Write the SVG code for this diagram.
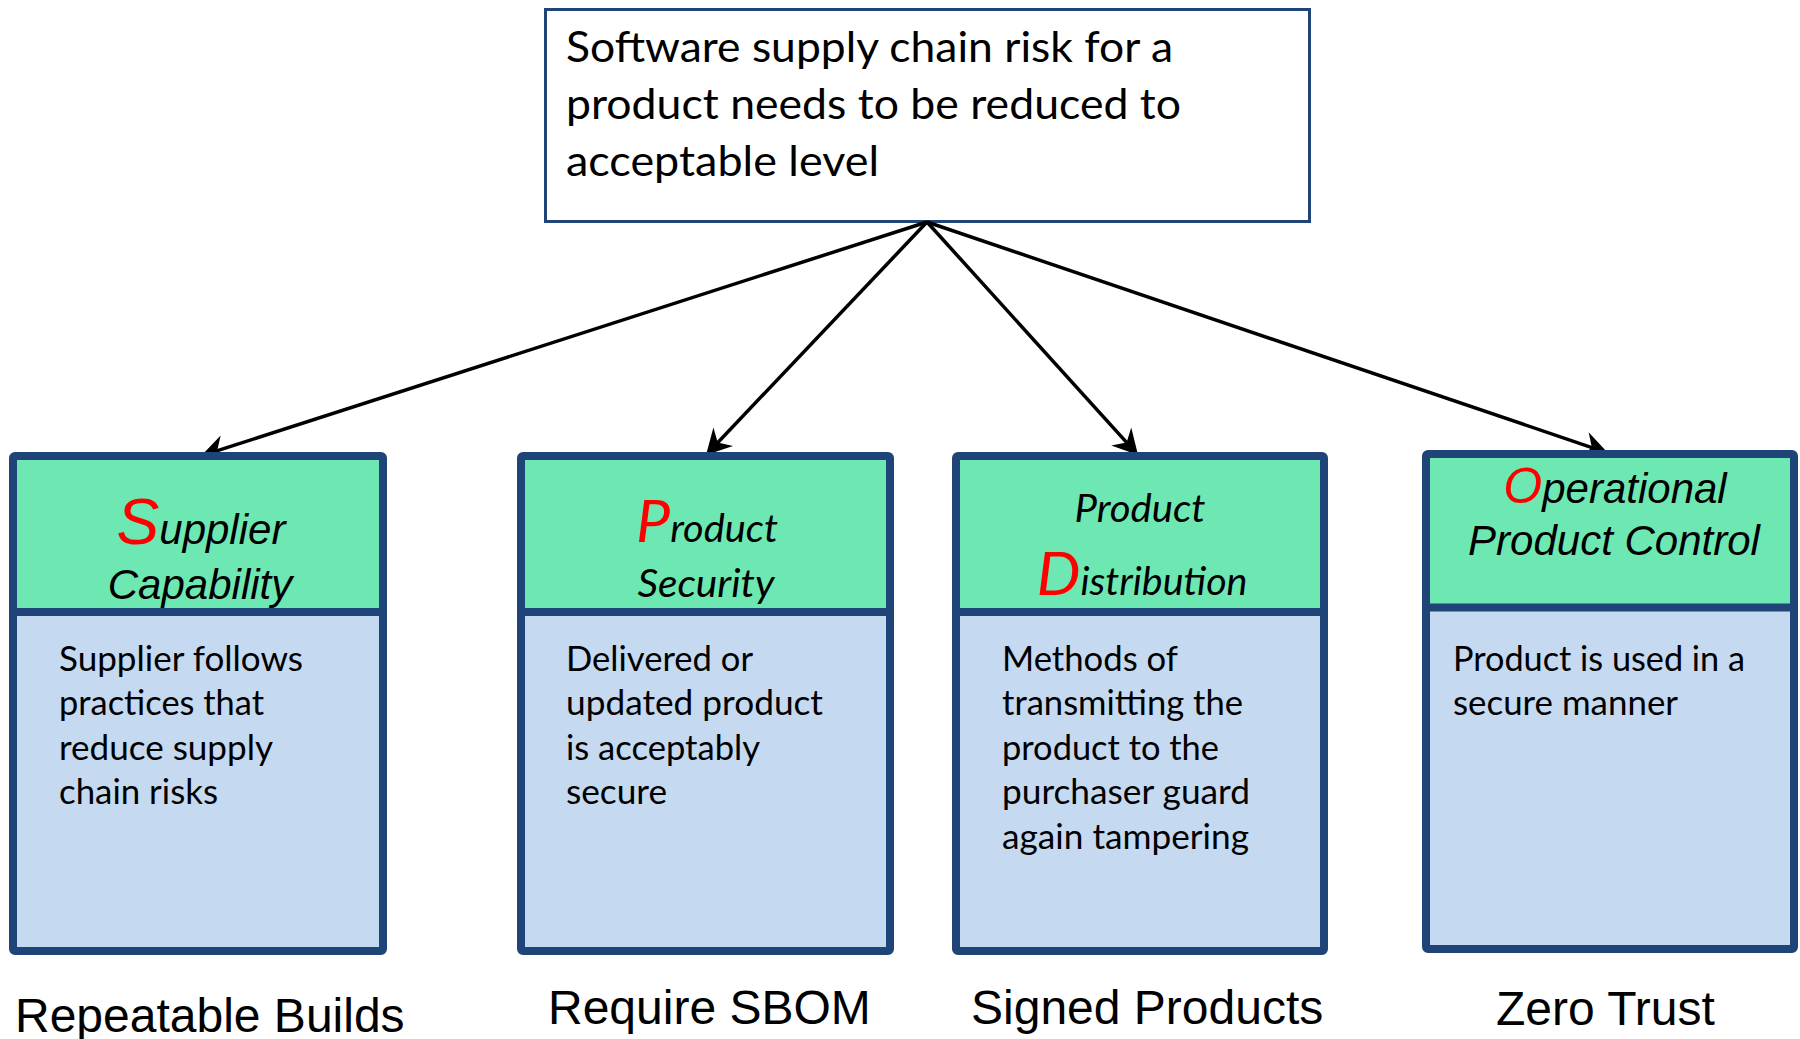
<svg xmlns="http://www.w3.org/2000/svg" width="1800" height="1039" viewBox="0 0 1800 1039">
<style>
.frame{fill:none;stroke:#1F4478;stroke-width:8;stroke-linejoin:round}
.sep{stroke:#1F4478;stroke-width:8}
.green{fill:#6EE8B2}
.blue{fill:#C5D9F1}
.top{fill:#FFFFFF;stroke:#1F4478;stroke-width:3}
.cal{font-family:Lato,"Open Sans","Liberation Sans",sans-serif;fill:#000}
.ari{font-family:"Liberation Sans",Arial,sans-serif;fill:#000}
.body{font-size:34px}
.hd{font-style:italic}
.red{fill:#FF0000}
.lbl{font-size:48px}
.conn{stroke:#000;stroke-width:3.5;fill:none;marker-end:url(#ah)}
</style>
<defs>
<marker id="ah" markerWidth="30" markerHeight="30" refX="0" refY="0" orient="auto" markerUnits="userSpaceOnUse" style="overflow:visible">
<path d="M10,0 L-15,-13.5 L-7,0 L-15,13.5 Z" fill="#000"/>
</marker>
</defs>
<rect width="1800" height="1039" fill="#FFFFFF"/>

<g id="root">
<rect class="top" x="545.5" y="9.5" width="764" height="212"/>
<text class="cal" font-size="43" x="566" y="62" textLength="607" lengthAdjust="spacingAndGlyphs">Software supply chain risk for a</text>
<text class="cal" font-size="43" x="566" y="119" textLength="615" lengthAdjust="spacingAndGlyphs">product needs to be reduced to</text>
<text class="cal" font-size="43" x="566" y="176" textLength="313" lengthAdjust="spacingAndGlyphs">acceptable level</text>
</g>

<g id="connectors">
<line class="conn" x1="927" y1="222" x2="210.5" y2="452.9"/>
<line class="conn" x1="927" y1="222" x2="712.9" y2="447.7"/>
<line class="conn" x1="927" y1="222" x2="1131.3" y2="447.6"/>
<line class="conn" x1="927" y1="222" x2="1598.5" y2="449.8"/>
</g>

<g id="supplier">
<rect class="green" x="13" y="456" width="370" height="156"/>
<rect class="blue" x="13" y="612" width="370" height="339"/>
<line class="sep" x1="13" y1="612" x2="383" y2="612"/>
<rect class="frame" x="13" y="456" width="370" height="495" rx="2"/>
<text class="ari hd" font-size="42" x="201" y="544" text-anchor="middle"><tspan class="red" font-size="64">S</tspan>upplier</text>
<text class="ari hd" font-size="42" x="200" y="599" text-anchor="middle">Capability</text>
<text class="cal body" x="59" y="671" textLength="244" lengthAdjust="spacingAndGlyphs">Supplier follows</text>
<text class="cal body" x="59" y="715" textLength="205" lengthAdjust="spacingAndGlyphs">practices that</text>
<text class="cal body" x="59" y="760" textLength="214" lengthAdjust="spacingAndGlyphs">reduce supply</text>
<text class="cal body" x="59" y="804" textLength="159" lengthAdjust="spacingAndGlyphs">chain risks</text>
</g>

<g id="product-security">
<rect class="green" x="521" y="456" width="369" height="156"/>
<rect class="blue" x="521" y="612" width="369" height="339"/>
<line class="sep" x1="521" y1="612" x2="890" y2="612"/>
<rect class="frame" x="521" y="456" width="369" height="495" rx="2"/>
<text class="cal hd" font-size="38" x="707" y="542" text-anchor="middle" textLength="142" lengthAdjust="spacingAndGlyphs"><tspan class="red" font-size="58">P</tspan>roduct</text>
<text class="cal hd" font-size="38" x="706" y="597" text-anchor="middle" textLength="137" lengthAdjust="spacingAndGlyphs">Security</text>
<text class="cal body" x="566" y="671" textLength="187" lengthAdjust="spacingAndGlyphs">Delivered or</text>
<text class="cal body" x="566" y="715" textLength="257" lengthAdjust="spacingAndGlyphs">updated product</text>
<text class="cal body" x="566" y="760" textLength="194" lengthAdjust="spacingAndGlyphs">is acceptably</text>
<text class="cal body" x="566" y="804" textLength="101" lengthAdjust="spacingAndGlyphs">secure</text>
</g>

<g id="product-distribution">
<rect class="green" x="956" y="456" width="368" height="156"/>
<rect class="blue" x="956" y="612" width="368" height="339"/>
<line class="sep" x1="956" y1="612" x2="1324" y2="612"/>
<rect class="frame" x="956" y="456" width="368" height="495" rx="2"/>
<text class="cal hd" font-size="38" x="1140" y="522" text-anchor="middle" textLength="131" lengthAdjust="spacingAndGlyphs">Product</text>
<text class="cal hd" font-size="38" x="1142" y="595" text-anchor="middle" textLength="211" lengthAdjust="spacingAndGlyphs"><tspan class="red" font-size="60">D</tspan>istribution</text>
<text class="cal body" x="1002" y="671" textLength="176" lengthAdjust="spacingAndGlyphs">Methods of</text>
<text class="cal body" x="1002" y="715" textLength="241" lengthAdjust="spacingAndGlyphs">transmitting the</text>
<text class="cal body" x="1002" y="760" textLength="217" lengthAdjust="spacingAndGlyphs">product to the</text>
<text class="cal body" x="1002" y="804" textLength="248" lengthAdjust="spacingAndGlyphs">purchaser guard</text>
<text class="cal body" x="1002" y="849" textLength="247" lengthAdjust="spacingAndGlyphs">again tampering</text>
</g>

<g id="operational-control">
<rect class="green" x="1426" y="454" width="368" height="153"/>
<rect class="blue" x="1426" y="607" width="368" height="342"/>
<line class="sep" x1="1426" y1="607.5" x2="1794" y2="607.5"/>
<rect class="frame" x="1426" y="454" width="368" height="495" rx="2"/>
<text class="ari hd" font-size="42" x="1615" y="503" text-anchor="middle"><tspan class="red" font-size="50">O</tspan>perational</text>
<text class="ari hd" font-size="42" x="1614" y="555" text-anchor="middle">Product Control</text>
<text class="cal body" x="1453" y="671" textLength="292" lengthAdjust="spacingAndGlyphs">Product is used in a</text>
<text class="cal body" x="1453" y="715" textLength="225" lengthAdjust="spacingAndGlyphs">secure manner</text>
</g>

<g id="labels">
<text class="ari lbl" x="15" y="1032">Repeatable Builds</text>
<text class="ari lbl" x="548" y="1024">Require SBOM</text>
<text class="ari lbl" x="971" y="1024">Signed Products</text>
<text class="ari lbl" x="1496" y="1025">Zero Trust</text>
</g>
</svg>
